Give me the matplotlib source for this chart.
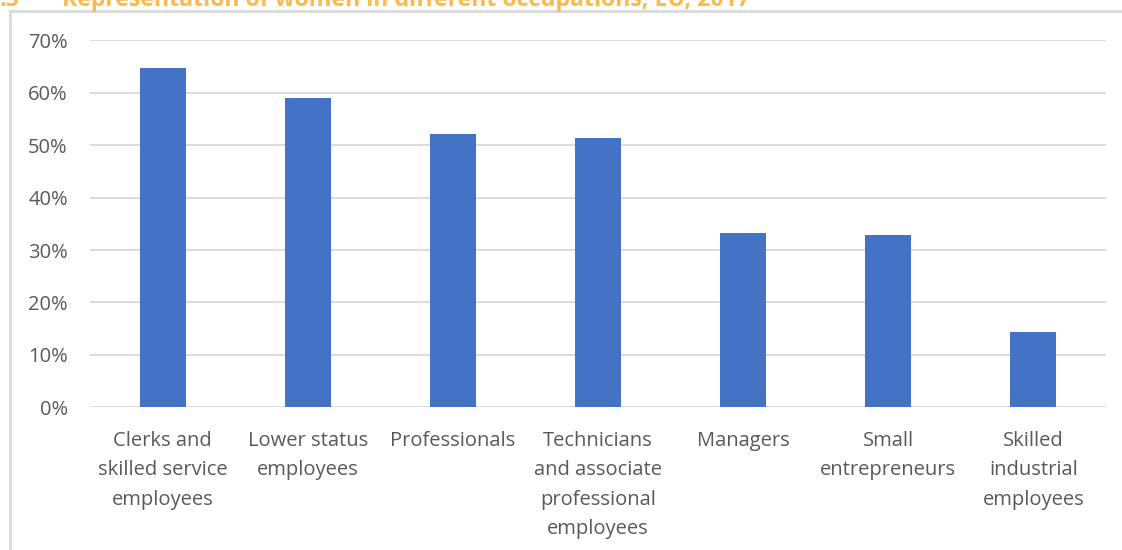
import matplotlib
matplotlib.use("Agg")
import matplotlib.pyplot as plt
from matplotlib.lines import Line2D
from matplotlib.ticker import FuncFormatter

categories = [
    "Clerks and\nskilled service\nemployees",
    "Lower status\nemployees",
    "Professionals",
    "Technicians\nand associate\nprofessional\nemployees",
    "Managers",
    "Small\nentrepreneurs",
    "Skilled\nindustrial\nemployees",
]
share_women = [0.648, 0.590, 0.521, 0.513, 0.332, 0.329, 0.144]
y_ticks = [0.0, 0.1, 0.2, 0.3, 0.4, 0.5, 0.6, 0.7]
title = "Representation of women in different occupations, EU, 2017"

W, H = 1122, 550
fig = plt.figure(figsize=(W / 100, H / 100), dpi=100)
ax = fig.add_axes([90 / W, (H - 407.3) / H, (1106 - 90) / W, (407.3 - 40.3) / H])

x = range(len(categories))
ax.bar(x, share_women, width=0.317, color="#4472C4", zorder=3)

ax.set_xlim(-0.5, len(categories) - 0.5)
ax.set_ylim(0, 0.70)
ax.set_yticks(y_ticks)
ax.yaxis.set_major_formatter(FuncFormatter(lambda v, _: f"{v * 100:.0f}%"))
ax.grid(axis="y", color="#D9D9D9", linewidth=1.3, zorder=0)
ax.set_xticks(list(x))
ax.set_xticklabels(categories, linespacing=1.62)
for s in ax.spines.values():
    s.set_visible(False)
ax.tick_params(axis="both", length=0, colors="#595959", labelsize=14.5)
ax.tick_params(axis="y", pad=16)
ax.tick_params(axis="x", pad=17)
for lab in ax.get_xticklabels() + ax.get_yticklabels():
    lab.set_fontfamily("Open Sans")
    lab.set_color("#595959")

# outer chart frame (left and top edges)
fig.add_artist(Line2D([9.5 / W, 9.5 / W], [0, (H - 11) / H], transform=fig.transFigure,
                      color="#D9D9D9", linewidth=2))
fig.add_artist(Line2D([9.5 / W, 1], [(H - 11) / H, (H - 11) / H], transform=fig.transFigure,
                      color="#D9D9D9", linewidth=2))

# heading, running off the top edge
fig.text(62 / W, (H - 6.5) / H, title, color="#FDB94B", fontsize=16.7, fontweight="bold",
         fontfamily="Open Sans", va="baseline", ha="left")
fig.text(0 / W, (H - 6.5) / H, ".5", color="#FDB94B", fontsize=16.7, fontweight="bold",
         fontfamily="Open Sans", va="baseline", ha="left")

fig.savefig("out.png", dpi=100)
